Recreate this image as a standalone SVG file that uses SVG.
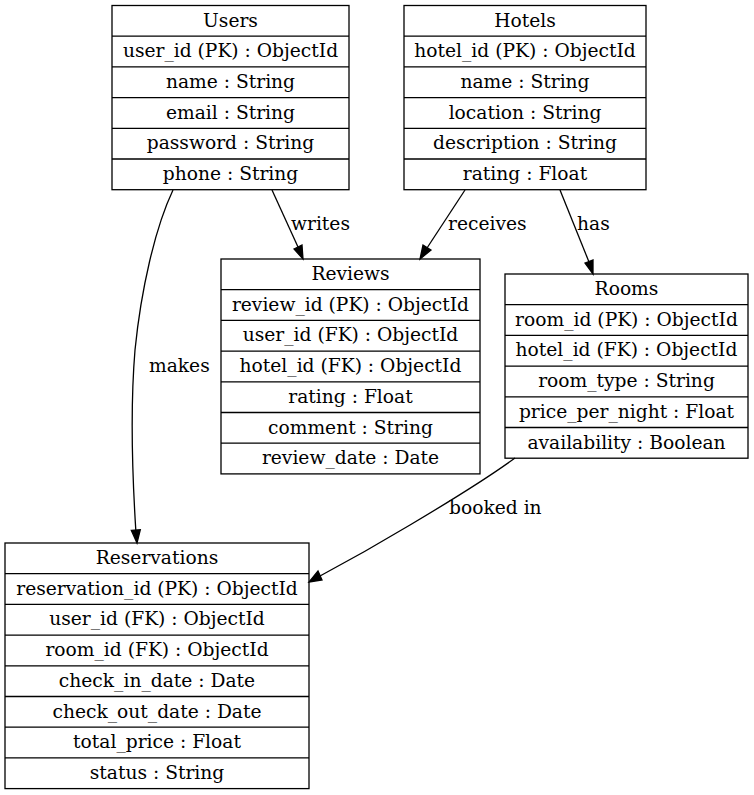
<svg xmlns="http://www.w3.org/2000/svg" width="754" height="795" viewBox="0 0 754 795">
<style>
text{font-family:"DejaVu Serif","Liberation Serif",serif;font-size:18.67px;fill:#000}
.t{text-anchor:middle}
.box{fill:none;stroke:#000;stroke-width:1.3}
.sep{stroke:#000;stroke-width:1.3}
.e{fill:none;stroke:#000;stroke-width:1.3}
.ah{fill:#000;stroke:#000;stroke-width:1.3}
</style>
<rect width="754" height="795" fill="#fff"/>
<g id="connectors">
  <path class="e" d="M173,190 C155,228 141,290 135,350 C130,410 132,470 135.8,530"/>
  <polygon class="ah" points="131.3,530.3 140.3,529.7 137,543"/>
  <text x="149" y="372">makes</text>
  <path class="e" d="M272,190 L298,247"/>
  <polygon class="ah" points="294,249 302,245 303,259"/>
  <text x="291" y="230">writes</text>
  <path class="e" d="M465,190 L427,248"/>
  <polygon class="ah" points="423,245 431,250 420,259"/>
  <text x="448" y="230">receives</text>
  <path class="e" d="M560,190 L589,262"/>
  <polygon class="ah" points="585,263 593,260 593,274"/>
  <text x="577" y="230">has</text>
  <path class="e" d="M515,458 C485,480 447,503 410,525 C380,543 350,560 320,576"/>
  <polygon class="ah" points="318,571 322,580 309,582"/>
  <text x="449" y="514">booked in</text>
</g>
<g id="Users">
  <rect class="box" x="112" y="5.5" width="237" height="184.2"/>
  <path class="sep" d="M112,36.2H349M112,66.9H349M112,97.6H349M112,128.3H349M112,159H349"/>
  <text class="t" x="230.5" y="26.5">Users</text>
  <text class="t" x="230.5" y="57.2">user_id (PK) : ObjectId</text>
  <text class="t" x="230.5" y="87.9">name : String</text>
  <text class="t" x="230.5" y="118.6">email : String</text>
  <text class="t" x="230.5" y="149.3">password : String</text>
  <text class="t" x="230.5" y="180">phone : String</text>
</g>
<g id="Hotels">
  <rect class="box" x="404" y="5.5" width="242" height="184.2"/>
  <path class="sep" d="M404,36.2H646M404,66.9H646M404,97.6H646M404,128.3H646M404,159H646"/>
  <text class="t" x="525" y="26.5">Hotels</text>
  <text class="t" x="525" y="57.2">hotel_id (PK) : ObjectId</text>
  <text class="t" x="525" y="87.9">name : String</text>
  <text class="t" x="525" y="118.6">location : String</text>
  <text class="t" x="525" y="149.3">description : String</text>
  <text class="t" x="525" y="180">rating : Float</text>
</g>
<g id="Reviews">
  <rect class="box" x="221" y="259" width="259" height="214.9"/>
  <path class="sep" d="M221,289.7H480M221,320.4H480M221,351.1H480M221,381.8H480M221,412.5H480M221,443.2H480"/>
  <text class="t" x="350.5" y="280">Reviews</text>
  <text class="t" x="350.5" y="310.7">review_id (PK) : ObjectId</text>
  <text class="t" x="350.5" y="341.4">user_id (FK) : ObjectId</text>
  <text class="t" x="350.5" y="372.1">hotel_id (FK) : ObjectId</text>
  <text class="t" x="350.5" y="402.8">rating : Float</text>
  <text class="t" x="350.5" y="433.5">comment : String</text>
  <text class="t" x="350.5" y="464.2">review_date : Date</text>
</g>
<g id="Rooms">
  <rect class="box" x="505" y="274" width="243" height="184.2"/>
  <path class="sep" d="M505,304.7H748M505,335.4H748M505,366.1H748M505,396.8H748M505,427.5H748"/>
  <text class="t" x="626.5" y="295">Rooms</text>
  <text class="t" x="626.5" y="325.7">room_id (PK) : ObjectId</text>
  <text class="t" x="626.5" y="356.4">hotel_id (FK) : ObjectId</text>
  <text class="t" x="626.5" y="387.1">room_type : String</text>
  <text class="t" x="626.5" y="417.8">price_per_night : Float</text>
  <text class="t" x="626.5" y="448.5">availability : Boolean</text>
</g>
<g id="Reservations">
  <rect class="box" x="5" y="543" width="304" height="245.6"/>
  <path class="sep" d="M5,573.7H309M5,604.4H309M5,635.1H309M5,665.8H309M5,696.5H309M5,727.2H309M5,757.9H309"/>
  <text class="t" x="157" y="564">Reservations</text>
  <text class="t" x="157" y="594.7">reservation_id (PK) : ObjectId</text>
  <text class="t" x="157" y="625.4">user_id (FK) : ObjectId</text>
  <text class="t" x="157" y="656.1">room_id (FK) : ObjectId</text>
  <text class="t" x="157" y="686.8">check_in_date : Date</text>
  <text class="t" x="157" y="717.5">check_out_date : Date</text>
  <text class="t" x="157" y="748.2">total_price : Float</text>
  <text class="t" x="157" y="778.9">status : String</text>
</g>
</svg>
